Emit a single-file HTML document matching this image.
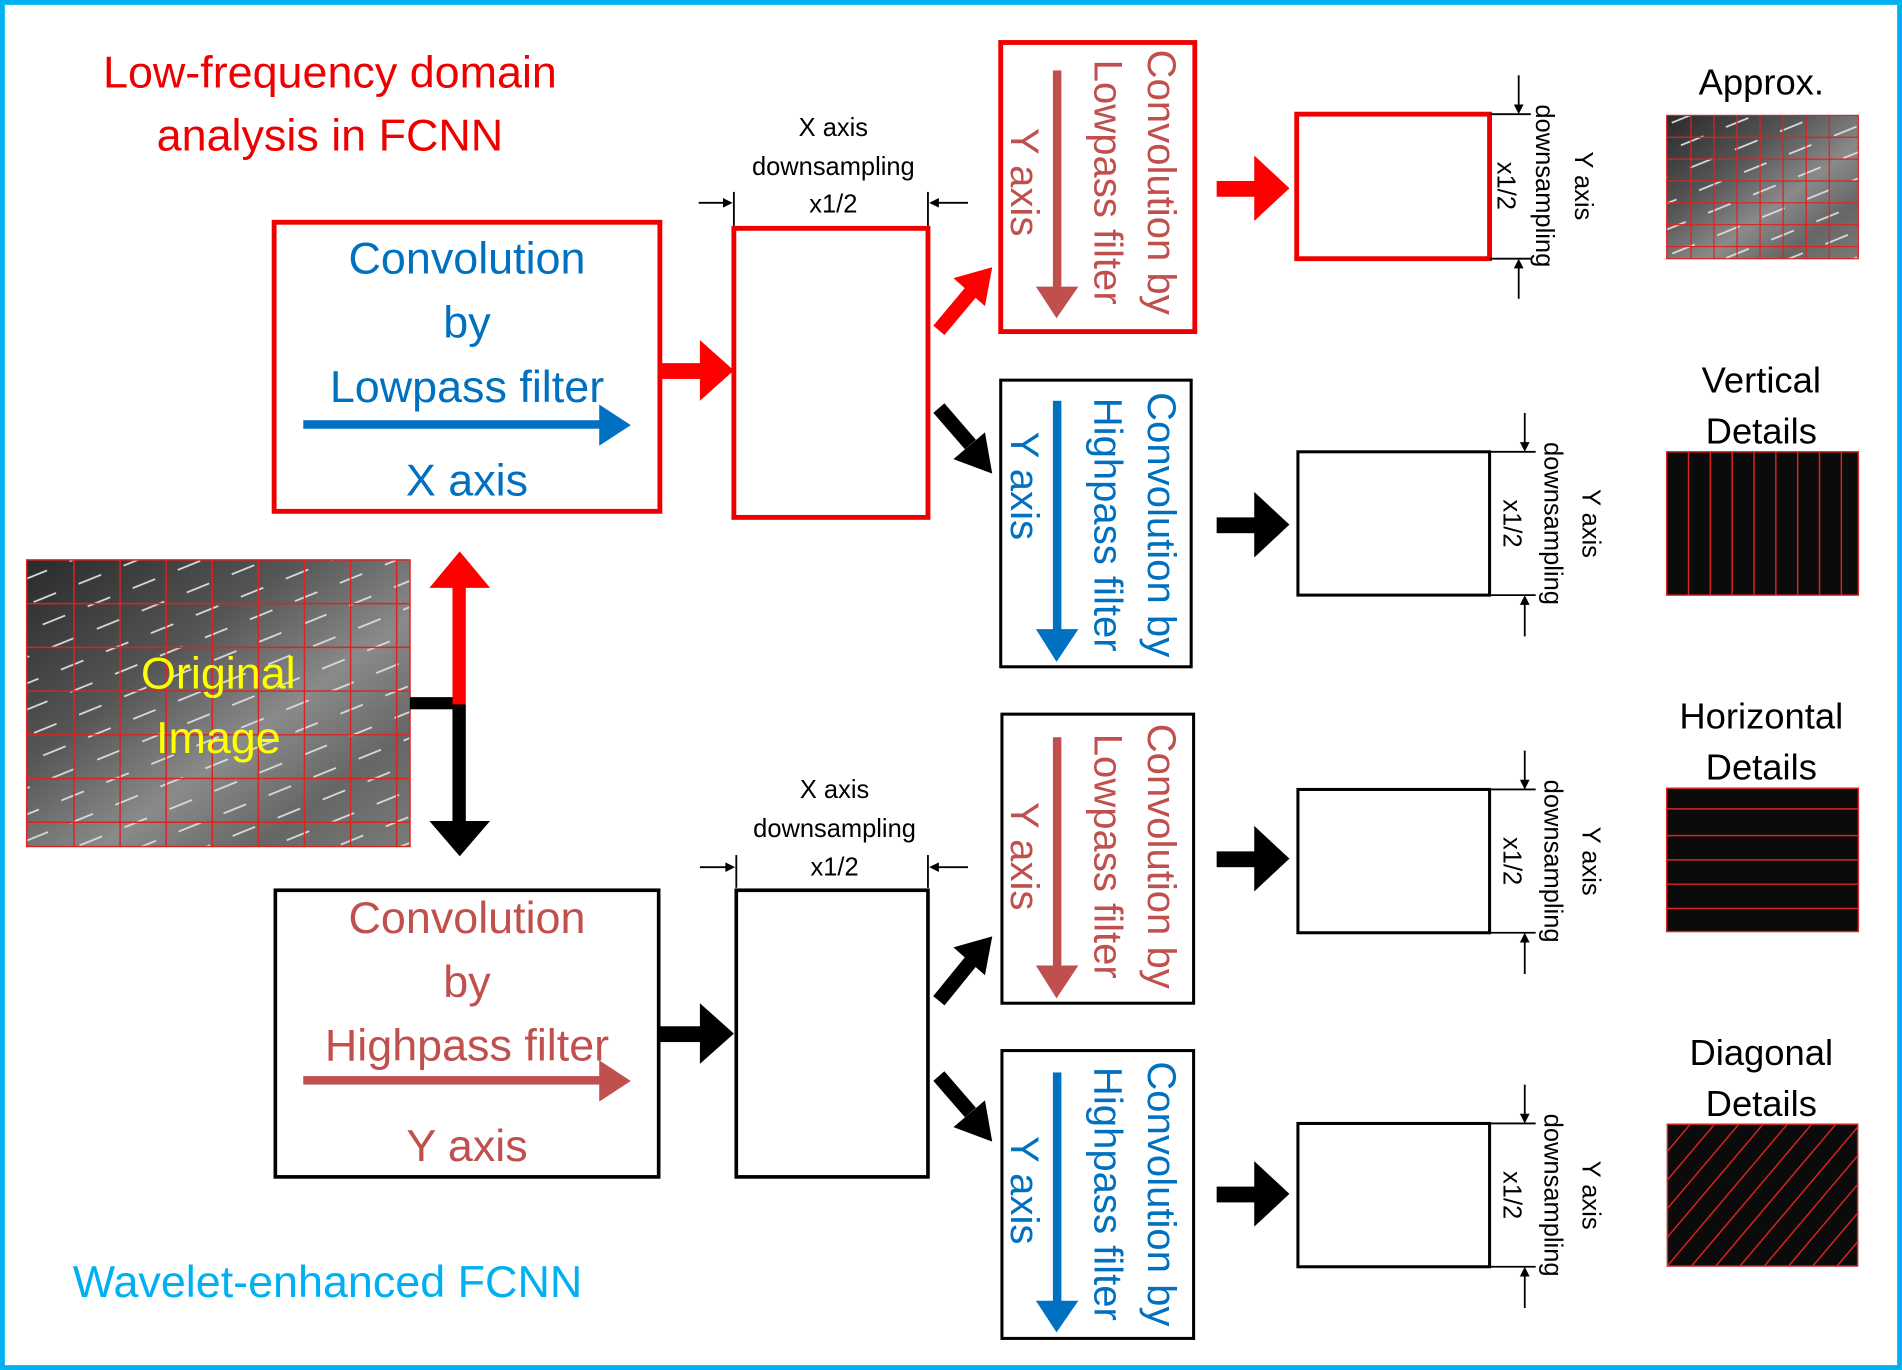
<!DOCTYPE html>
<html><head><meta charset="utf-8"><style>
html,body{margin:0;padding:0;background:#fff;}
svg{display:block;}
text{font-family:"Liberation Sans",sans-serif;}
</style></head><body>
<svg width="1902" height="1370" viewBox="0 0 1568 1128" preserveAspectRatio="none" xmlns="http://www.w3.org/2000/svg">
<defs>
<linearGradient id="g1" x1="0" y1="0" x2="1" y2="1">
<stop offset="0" stop-color="#2a2a2a"/><stop offset="0.35" stop-color="#555"/><stop offset="0.6" stop-color="#8a8a8a"/><stop offset="0.8" stop-color="#666"/><stop offset="1" stop-color="#7a7a7a"/>
</linearGradient>
<pattern id="road" width="40" height="20" patternUnits="userSpaceOnUse" patternTransform="rotate(-22)">
<rect width="40" height="20" fill="none"/><line x1="0" y1="10" x2="20" y2="10" stroke="#ddd" stroke-width="1.5"/>
</pattern>
</defs>
<rect x="2" y="2" width="1564" height="1124" fill="#fff" stroke="#00b0f0" stroke-width="4"/>

<g font-size="37" text-anchor="middle">
<text x="272" y="72" fill="#e00">Low-frequency domain</text>
<text x="272" y="124" fill="#e00">analysis in FCNN</text>
<text x="270" y="1068" fill="#00b0f0">Wavelet-enhanced  FCNN</text>
</g>

<!-- original image -->
<rect x="22" y="461" width="316" height="236" fill="url(#g1)"/>
<rect x="22" y="461" width="316" height="236" fill="url(#road)"/>
<g stroke="#d22" stroke-width="1.2">
<line x1="61" y1="461" x2="61" y2="697"/><line x1="99" y1="461" x2="99" y2="697"/><line x1="137" y1="461" x2="137" y2="697"/><line x1="175" y1="461" x2="175" y2="697"/><line x1="213" y1="461" x2="213" y2="697"/><line x1="251" y1="461" x2="251" y2="697"/><line x1="289" y1="461" x2="289" y2="697"/><line x1="327" y1="461" x2="327" y2="697"/>
<line x1="22" y1="497" x2="338" y2="497"/><line x1="22" y1="533" x2="338" y2="533"/><line x1="22" y1="569" x2="338" y2="569"/><line x1="22" y1="605" x2="338" y2="605"/><line x1="22" y1="641" x2="338" y2="641"/><line x1="22" y1="677" x2="338" y2="677"/>
<rect x="22" y="461" width="316" height="236" fill="none"/>
</g>
<g font-size="37" text-anchor="middle" fill="#ffff00">
<text x="180" y="567">Original</text><text x="180" y="620">Image</text>
</g>
<!-- split arrows -->
<rect x="338" y="574" width="44" height="10" fill="#000"/>
<rect x="373" y="480" width="11" height="100" fill="#f00"/>
<polygon points="354,484 404,484 379,454" fill="#f00"/>
<rect x="373" y="580" width="11" height="98" fill="#000"/>
<polygon points="354,676 404,676 379,705" fill="#000"/>

<!-- upper lowpass box -->
<rect x="226" y="183" width="318" height="238" fill="none" stroke="#e00" stroke-width="4"/>
<g font-size="37" text-anchor="middle" fill="#0070c0">
<text x="385" y="225">Convolution</text><text x="385" y="278">by</text><text x="385" y="331">Lowpass filter</text><text x="385" y="408">X axis</text>
</g>
<rect x="250" y="346" width="245" height="7" fill="#0070c0"/>
<polygon points="494,333 520,350 494,367" fill="#0070c0"/>

<!-- lower highpass box -->
<rect x="227" y="733" width="316" height="236" fill="none" stroke="#000" stroke-width="3"/>
<g font-size="37" text-anchor="middle" fill="#c0504d">
<text x="385" y="768">Convolution</text><text x="385" y="821">by</text><text x="385" y="873">Highpass filter</text><text x="385" y="956">Y axis</text>
</g>
<rect x="250" y="886" width="245" height="7" fill="#c0504d"/>
<polygon points="494,873 520,890 494,907" fill="#c0504d"/>

<!-- arrows to middle boxes -->
<rect x="544" y="299" width="35" height="13" fill="#f00"/><polygon points="577,280 605,305 577,330" fill="#f00"/>
<rect x="544" y="845" width="35" height="13" fill="#000"/><polygon points="577,826 605,851 577,876" fill="#000"/>

<rect x="605" y="188" width="160" height="238" fill="none" stroke="#e00" stroke-width="4"/>
<rect x="607" y="733" width="158" height="236" fill="none" stroke="#000" stroke-width="3"/>

<!-- dimension labels X -->
<g font-size="21" text-anchor="middle" fill="#000">
<text x="687" y="112">X axis</text><text x="687" y="144">downsampling</text><text x="687" y="175">x1/2</text>
<text x="688" y="657">X axis</text><text x="688" y="689">downsampling</text><text x="688" y="721">x1/2</text>
</g>
<g stroke="#000" stroke-width="1.5">
<line x1="605" y1="158" x2="605" y2="186"/><line x1="765" y1="158" x2="765" y2="186"/>
<line x1="576" y1="167" x2="600" y2="167"/><line x1="770" y1="167" x2="798" y2="167"/>
<line x1="607" y1="704" x2="607" y2="731"/><line x1="765" y1="704" x2="765" y2="731"/>
<line x1="577" y1="714" x2="602" y2="714"/><line x1="770" y1="714" x2="798" y2="714"/>
</g>
<g fill="#000">
<polygon points="604,167 596,163 596,171"/><polygon points="766,167 774,163 774,171"/>
<polygon points="606,714 598,710 598,718"/><polygon points="766,714 774,710 774,718"/>
</g>

<!-- diagonal arrows -->
<g>
<line x1="774" y1="272" x2="800" y2="241" stroke="#f00" stroke-width="12"/><polygon points="786,229 818,220 812,252" fill="#f00"/>
<line x1="774" y1="336" x2="800" y2="366" stroke="#000" stroke-width="12"/><polygon points="786,378 818,390 812,356" fill="#000"/>
<line x1="774" y1="824" x2="800" y2="792" stroke="#000" stroke-width="12"/><polygon points="786,780 818,771 812,803" fill="#000"/>
<line x1="774" y1="886" x2="800" y2="916" stroke="#000" stroke-width="12"/><polygon points="786,928 818,940 812,906" fill="#000"/>
</g>

<!-- Y conv boxes -->
<rect x="825" y="35" width="160" height="238" fill="none" stroke="#e00" stroke-width="4"/>
<rect x="825" y="313" width="157" height="236" fill="none" stroke="#000" stroke-width="2.5"/>
<rect x="826" y="588" width="158" height="238" fill="none" stroke="#000" stroke-width="2.5"/>
<rect x="826" y="865" width="158" height="237" fill="none" stroke="#000" stroke-width="2.5"/>
<g font-size="33" text-anchor="middle" dominant-baseline="central">
<g fill="#c0504d">
<text transform="translate(957,150) rotate(90)">Convolution by</text>
<text transform="translate(913,150) rotate(90)">Lowpass filter</text>
<text transform="translate(844,150) rotate(90)">Y axis</text>
<text transform="translate(957,705) rotate(90)">Convolution by</text>
<text transform="translate(913,705) rotate(90)">Lowpass filter</text>
<text transform="translate(844,705) rotate(90)">Y axis</text>
</g>
<g fill="#0070c0">
<text transform="translate(957,432) rotate(90)">Convolution by</text>
<text transform="translate(913,432) rotate(90)">Highpass filter</text>
<text transform="translate(844,400) rotate(90)">Y axis</text>
<text transform="translate(957,983) rotate(90)">Convolution by</text>
<text transform="translate(913,983) rotate(90)">Highpass filter</text>
<text transform="translate(844,980) rotate(90)">Y axis</text>
</g>
</g>
<rect x="868" y="58" width="7" height="180" fill="#c0504d"/><polygon points="854,236 889,236 871,262" fill="#c0504d"/>
<rect x="868" y="330" width="7" height="190" fill="#0070c0"/><polygon points="854,518 889,518 871,545" fill="#0070c0"/>
<rect x="868" y="607" width="7" height="190" fill="#c0504d"/><polygon points="854,795 889,795 871,822" fill="#c0504d"/>
<rect x="868" y="883" width="7" height="190" fill="#0070c0"/><polygon points="854,1071 889,1071 871,1097" fill="#0070c0"/>

<!-- arrows to outputs -->
<rect x="1003" y="149" width="34" height="13" fill="#f00"/><polygon points="1034,128 1063,155 1034,182" fill="#f00"/>
<rect x="1003" y="426" width="34" height="13" fill="#000"/><polygon points="1034,405 1063,432 1034,459" fill="#000"/>
<rect x="1003" y="701" width="34" height="13" fill="#000"/><polygon points="1034,680 1063,707 1034,734" fill="#000"/>
<rect x="1003" y="977" width="34" height="13" fill="#000"/><polygon points="1034,956 1063,983 1034,1010" fill="#000"/>

<!-- output boxes -->
<rect x="1069" y="94" width="159" height="119" fill="none" stroke="#e00" stroke-width="4"/>
<rect x="1070" y="372" width="158" height="118" fill="none" stroke="#000" stroke-width="2.5"/>
<rect x="1070" y="650" width="158" height="118" fill="none" stroke="#000" stroke-width="2.5"/>
<rect x="1070" y="925" width="158" height="118" fill="none" stroke="#000" stroke-width="2.5"/>

<!-- Y dimension -->
<g stroke="#000" stroke-width="1.5">
<line x1="1228" y1="94" x2="1262" y2="94"/><line x1="1228" y1="213" x2="1262" y2="213"/><line x1="1252" y1="62" x2="1252" y2="88"/><line x1="1252" y1="219" x2="1252" y2="246"/>
<line x1="1228" y1="372" x2="1266" y2="372"/><line x1="1228" y1="490" x2="1266" y2="490"/><line x1="1257" y1="340" x2="1257" y2="366"/><line x1="1257" y1="496" x2="1257" y2="524"/>
<line x1="1228" y1="650" x2="1266" y2="650"/><line x1="1228" y1="768" x2="1266" y2="768"/><line x1="1257" y1="618" x2="1257" y2="644"/><line x1="1257" y1="774" x2="1257" y2="802"/>
<line x1="1228" y1="925" x2="1266" y2="925"/><line x1="1228" y1="1043" x2="1266" y2="1043"/><line x1="1257" y1="893" x2="1257" y2="919"/><line x1="1257" y1="1049" x2="1257" y2="1077"/>
</g>
<g fill="#000">
<polygon points="1248,86 1256,86 1252,94"/><polygon points="1248,221 1256,221 1252,213"/>
<polygon points="1253,364 1261,364 1257,372"/><polygon points="1253,498 1261,498 1257,490"/>
<polygon points="1253,642 1261,642 1257,650"/><polygon points="1253,776 1261,776 1257,768"/>
<polygon points="1253,917 1261,917 1257,925"/><polygon points="1253,1051 1261,1051 1257,1043"/>
</g>
<g font-size="21" text-anchor="middle" dominant-baseline="central" fill="#000">
<text transform="translate(1241,153) rotate(90)">x1/2</text><text transform="translate(1273,153) rotate(90)">downsampling</text><text transform="translate(1305,153) rotate(90)">Y axis</text>
<text transform="translate(1246,431) rotate(90)">x1/2</text><text transform="translate(1280,431) rotate(90)">downsampling</text><text transform="translate(1311,431) rotate(90)">Y axis</text>
<text transform="translate(1246,709) rotate(90)">x1/2</text><text transform="translate(1280,709) rotate(90)">downsampling</text><text transform="translate(1311,709) rotate(90)">Y axis</text>
<text transform="translate(1246,984) rotate(90)">x1/2</text><text transform="translate(1280,984) rotate(90)">downsampling</text><text transform="translate(1311,984) rotate(90)">Y axis</text>
</g>

<!-- thumbnails -->
<g font-size="30" text-anchor="middle" fill="#000">
<text x="1452" y="78">Approx.</text>
<text x="1452" y="323">Vertical</text><text x="1452" y="365">Details</text>
<text x="1452" y="600">Horizontal</text><text x="1452" y="642">Details</text>
<text x="1452" y="877">Diagonal</text><text x="1452" y="919">Details</text>
</g>
<rect x="1374" y="95" width="158" height="118" fill="url(#g1)"/>
<rect x="1374" y="95" width="158" height="118" fill="url(#road)"/>
<g stroke="#d22" stroke-width="1">
<line x1="1394" y1="95" x2="1394" y2="213"/><line x1="1413" y1="95" x2="1413" y2="213"/><line x1="1432" y1="95" x2="1432" y2="213"/><line x1="1451" y1="95" x2="1451" y2="213"/><line x1="1470" y1="95" x2="1470" y2="213"/><line x1="1489" y1="95" x2="1489" y2="213"/><line x1="1508" y1="95" x2="1508" y2="213"/>
<line x1="1374" y1="113" x2="1532" y2="113"/><line x1="1374" y1="131" x2="1532" y2="131"/><line x1="1374" y1="149" x2="1532" y2="149"/><line x1="1374" y1="167" x2="1532" y2="167"/><line x1="1374" y1="185" x2="1532" y2="185"/><line x1="1374" y1="203" x2="1532" y2="203"/>
<rect x="1374" y="95" width="158" height="118" fill="none"/>
</g>
<rect x="1374" y="372" width="158" height="118" fill="#0b0b0b" stroke="#d22" stroke-width="1.2"/>
<g stroke="#d22" stroke-width="1.2">
<line x1="1392" y1="372" x2="1392" y2="490"/><line x1="1410" y1="372" x2="1410" y2="490"/><line x1="1428" y1="372" x2="1428" y2="490"/><line x1="1446" y1="372" x2="1446" y2="490"/><line x1="1464" y1="372" x2="1464" y2="490"/><line x1="1482" y1="372" x2="1482" y2="490"/><line x1="1500" y1="372" x2="1500" y2="490"/><line x1="1518" y1="372" x2="1518" y2="490"/>
</g>
<rect x="1374" y="649" width="158" height="118" fill="#0b0b0b" stroke="#d22" stroke-width="1.2"/>
<g stroke="#d22" stroke-width="1.2">
<line x1="1374" y1="666" x2="1532" y2="666"/><line x1="1374" y1="688" x2="1532" y2="688"/><line x1="1374" y1="708" x2="1532" y2="708"/><line x1="1374" y1="728" x2="1532" y2="728"/><line x1="1374" y1="748" x2="1532" y2="748"/>
</g>
<svg x="1374" y="925" width="158" height="118" viewBox="0 0 158 118">
<rect width="158" height="118" fill="#0b0b0b"/>
<g stroke="#d22" stroke-width="1.2">
<line x1="-100" y1="118" x2="0" y2="0"/><line x1="-80" y1="118" x2="20" y2="0"/><line x1="-60" y1="118" x2="40" y2="0"/><line x1="-40" y1="118" x2="60" y2="0"/><line x1="-20" y1="118" x2="80" y2="0"/><line x1="0" y1="118" x2="100" y2="0"/><line x1="20" y1="118" x2="120" y2="0"/><line x1="40" y1="118" x2="140" y2="0"/><line x1="60" y1="118" x2="160" y2="0"/><line x1="80" y1="118" x2="180" y2="0"/><line x1="100" y1="118" x2="200" y2="0"/><line x1="120" y1="118" x2="220" y2="0"/><line x1="140" y1="118" x2="240" y2="0"/>
</g>
<rect x="0.6" y="0.6" width="156.8" height="116.8" fill="none" stroke="#d22" stroke-width="1.2"/>
</svg>
</svg>
</body></html>
